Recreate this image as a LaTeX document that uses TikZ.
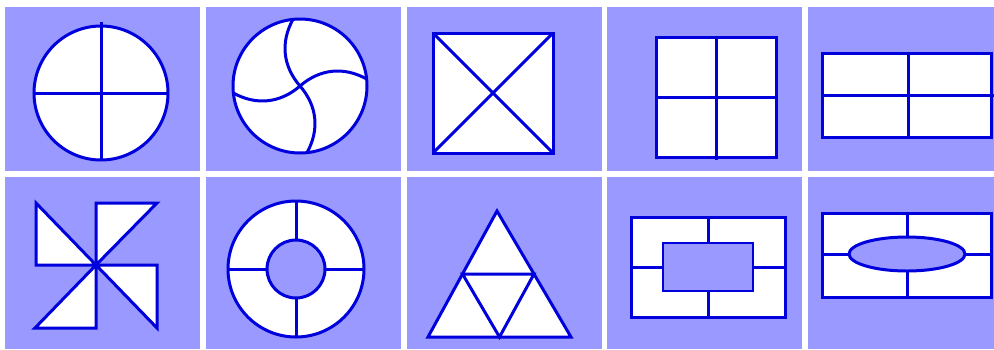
\documentclass[tikz,border=0pt]{standalone}
\usetikzlibrary{calc}
\definecolor{panelblue}{RGB}{153,153,255}
\definecolor{lineblue}{RGB}{0,0,220}
\begin{document}
\begin{tikzpicture}[x=1pt,y=-1pt,
  panel/.style={fill=panelblue,draw=none},
  shapeline/.style={draw=lineblue,line width=3pt,fill=white},
  ln/.style={draw=lineblue,line width=3pt},
  thinln/.style={draw=lineblue,line width=2pt}]
\useasboundingbox[fill=white] (0,0) rectangle (994,349);
% panels
\foreach \x in {5,206,407,607} {
  \fill[panelblue] (\x,7) rectangle ++(195,164);
  \fill[panelblue] (\x,177) rectangle ++(195,172);
}
\fill[panelblue] (808,7) rectangle (994,171);
\fill[panelblue] (808,177) rectangle (994,349);
% 1: circle with cross
\draw[shapeline] (101,93) circle[radius=67];
\draw[ln] (101,22) -- (101,160);
\draw[ln] (34,93) -- (168,93);
% 2: pinwheel circle
\coordinate (c2) at (300,86);
\draw[shapeline] (c2) circle[radius=67];
\draw[ln] (c2) to[bend left=35] ($(c2)+(96:67 and -67)$);
\draw[ln] (c2) to[bend left=35] ($(c2)+(6:67 and -67)$);
\draw[ln] (c2) to[bend left=35] ($(c2)+(276:67 and -67)$);
\draw[ln] (c2) to[bend left=35] ($(c2)+(186:67 and -67)$);
% 3: square with diagonals
\draw[shapeline] (433,33) rectangle (553,153);
\draw[ln] (433,33) -- (553,153);
\draw[ln] (553,33) -- (433,153);
% 4: square with cross
\draw[shapeline] (656,37) rectangle (776,157);
\draw[ln] (716,37) -- (716,160);
\draw[ln] (656,97) -- (778,97);
% 5: rectangle in four
\draw[shapeline] (822,53) rectangle (991,137);
\draw[ln] (908,53) -- (908,137);
\draw[ln] (822,95) -- (994,95);
% 6: pinwheel triangles
\coordinate (c6) at (96,265);
\draw[shapeline] (36,203) -- (36,265) -- (c6) -- cycle;
\draw[shapeline] (96,203) -- (157,203) -- (c6) -- cycle;
\draw[shapeline] (157,265) -- (157,328) -- (c6) -- cycle;
\draw[shapeline] (96,328) -- (35,328) -- (c6) -- cycle;
% 7: ring
\coordinate (c7) at (296,269);
\draw[shapeline] (c7) circle[radius=68];
\draw[ln] (296,201) -- (296,240);
\draw[ln] (296,298) -- (296,337);
\draw[ln] (228,269) -- (267,269);
\draw[ln] (325,269) -- (364,269);
\draw[ln,fill=panelblue] (c7) circle[radius=29];
% 8: triangle
\draw[shapeline] (497,211) -- (571,337) -- (428,337) -- cycle;
\draw[ln] (462.5,274) -- (534,274) -- (499.5,337) -- cycle;
% 9: frame
\draw[shapeline] (631,217) rectangle (785,317);
\draw[ln] (708,217) -- (708,243);
\draw[ln] (708,291) -- (708,317);
\draw[ln] (631,267) -- (663,267);
\draw[ln] (753,267) -- (785,267);
\draw[thinln,fill=panelblue] (663,243) rectangle (753,291);
% 10: rectangle with ellipse
\draw[shapeline] (822,213) rectangle (991,297);
\draw[ln] (907,213) -- (907,297);
\draw[ln] (822,254) -- (991,254);
\draw[ln,fill=panelblue] (907,254) ellipse[x radius=58,y radius=17];
\end{tikzpicture}
\end{document}
